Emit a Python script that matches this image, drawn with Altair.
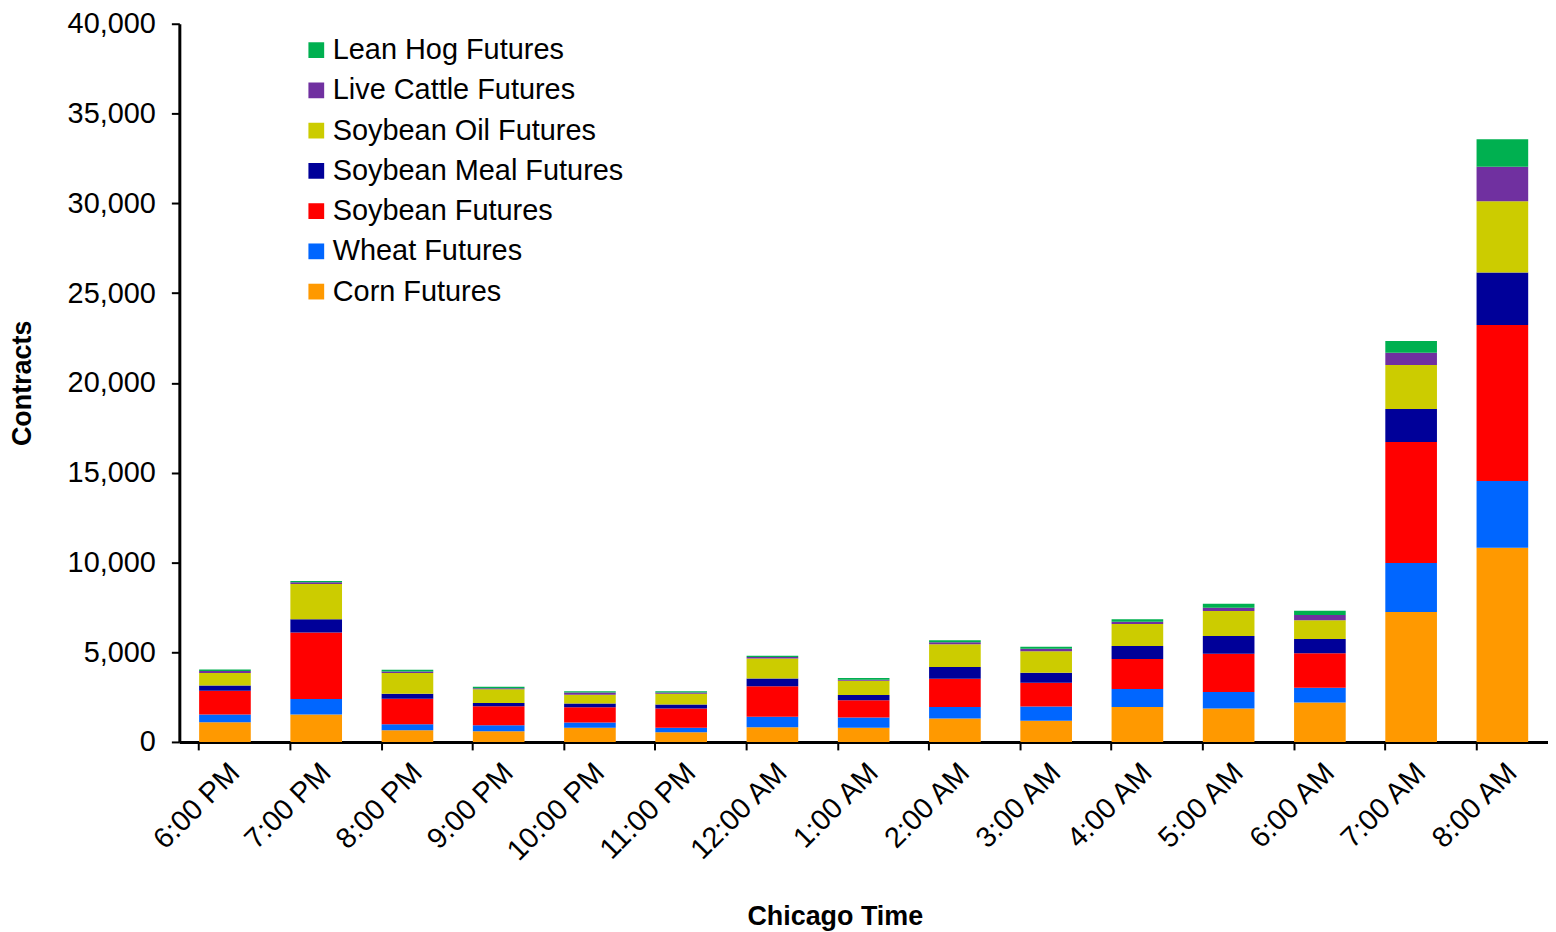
import altair as alt
import pandas as pd

times = ["6:00 PM", "7:00 PM", "8:00 PM", "9:00 PM", "10:00 PM", "11:00 PM",
         "12:00 AM", "1:00 AM", "2:00 AM", "3:00 AM", "4:00 AM", "5:00 AM",
         "6:00 AM", "7:00 AM", "8:00 AM"]

# stacking order: bottom -> top
series = ["Corn Futures", "Wheat Futures", "Soybean Futures", "Soybean Meal Futures",
          "Soybean Oil Futures", "Live Cattle Futures", "Lean Hog Futures"]
colors = ["#FF9900", "#0066FF", "#FF0000", "#000099", "#CCCC00", "#7030A0", "#00B050"]

corn    = [1100, 1525, 655, 600, 785, 545, 820, 785, 1305, 1175, 1950, 1860, 2190, 7240, 10810]
wheat   = [425, 870, 335, 330, 295, 240, 580, 575, 645, 795, 1000, 925, 830, 2720, 3720]
soybean = [1330, 3695, 1420, 1055, 850, 1075, 1695, 960, 1570, 1330, 1665, 2125, 1925, 6750, 8690]
meal    = [295, 740, 280, 185, 205, 220, 445, 295, 650, 555, 735, 995, 795, 1830, 2920]
oil     = [690, 1960, 1150, 760, 500, 610, 1110, 795, 1275, 1200, 1220, 1385, 1035, 2450, 3980]
cattle  = [110, 110, 90, 55, 125, 70, 75, 55, 110, 130, 130, 185, 295, 690, 1920]
hog     = [90, 60, 90, 95, 60, 60, 75, 95, 110, 110, 130, 225, 240, 650, 1520]

values = [corn, wheat, soybean, meal, oil, cattle, hog]

rows = []
for si, (name, vals) in enumerate(zip(series, values)):
    for t, v in zip(times, vals):
        rows.append({"time": t, "series": name, "value": v, "idx": si})
df = pd.DataFrame(rows)

legend_order = series[::-1]
legend_colors = colors[::-1]

FONT = "Liberation Sans"

chart = alt.Chart(df).mark_bar(stroke=None).encode(
    x=alt.X("time:N", sort=times,
            scale=alt.Scale(paddingInner=0.434, paddingOuter=0.217),
            axis=alt.Axis(title="Chicago Time", labelAngle=-45, bandPosition=0,
                          tickSize=8, tickWidth=2, tickColor="black",
                          domainColor="black", domainWidth=3,
                          labelFont=FONT, labelFontSize=29, labelColor="black",
                          labelPadding=8,
                          titleFont=FONT, titleFontSize=27, titleFontWeight="bold",
                          titleColor="black", titlePadding=38, titleX=658)),
    y=alt.Y("value:Q", stack="zero",
            scale=alt.Scale(domain=[0, 40000], nice=False),
            axis=alt.Axis(title="Contracts", values=list(range(0, 40001, 5000)),
                          format=",d", grid=False,
                          tickSize=8, tickWidth=2, tickColor="black",
                          domainColor="black", domainWidth=3,
                          labelFont=FONT, labelFontSize=29, labelColor="black",
                          labelPadding=16,
                          titleFont=FONT, titleFontSize=27, titleFontWeight="bold",
                          titleColor="black", titlePadding=31)),
    color=alt.Color("series:N",
                    scale=alt.Scale(domain=legend_order, range=legend_colors),
                    legend=alt.Legend(title=None, orient="none", legendX=123, legendY=12,
                                      symbolType="square", symbolSize=250,
                                      symbolStrokeWidth=0, labelFont=FONT,
                                      labelFontSize=29, labelColor="black",
                                      labelLimit=500,
                                      labelOffset=2, rowPadding=10.4)),
    order=alt.Order("idx:Q", sort="ascending"),
).properties(
    width=1374, height=721,
    padding={"left": 0, "top": 0, "right": 0, "bottom": 0},
).configure_view(stroke=None)

chart.save("out.html", embed_options={"renderer": "svg", "actions": False})
